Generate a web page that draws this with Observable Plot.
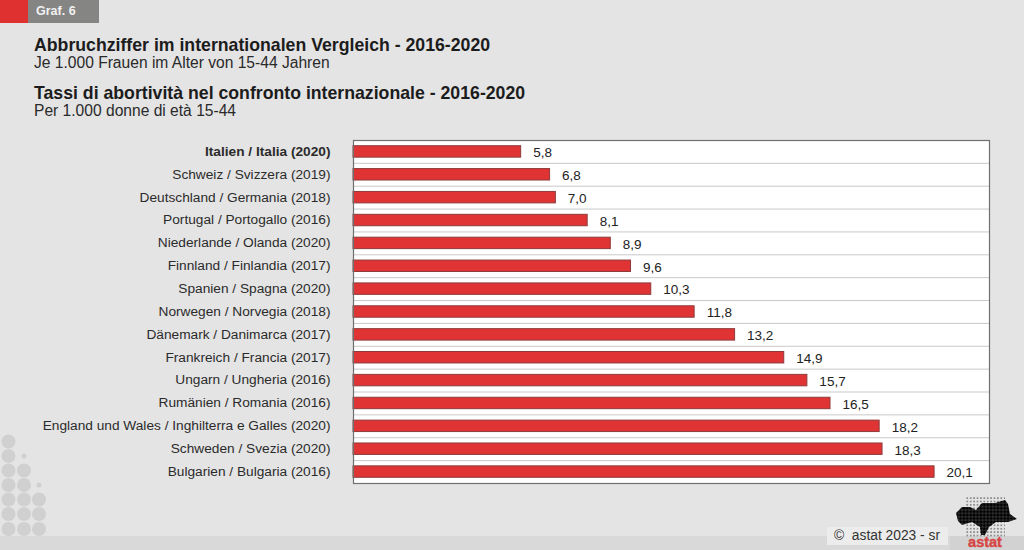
<!DOCTYPE html>
<html>
<head>
<meta charset="utf-8">
<script src="https://cdn.jsdelivr.net/npm/d3@7"></script>
<script src="https://cdn.jsdelivr.net/npm/@observablehq/plot@0.6"></script>
<style>
html,body{margin:0;padding:0;background:#e4e4e4;}
#page{position:relative;width:1024px;height:550px;overflow:hidden;background:#e4e4e4;font-family:"Liberation Sans",Arial,sans-serif;color:#1c1c1c;}
.t{position:absolute;left:34px;white-space:nowrap;}
.h{font-weight:bold;font-size:17.7px;line-height:18px;}
.s{font-size:15.6px;line-height:16px;color:#2a2a2a;}
#plot{position:absolute;left:0;top:130px;}
#plot svg{background:transparent;display:block;}
</style>
</head>
<body>
<div id="page">
  <div style="position:absolute;left:0;top:536px;width:1024px;height:14px;background:#d9d9d9"></div>
  <div style="position:absolute;left:0;top:0;width:28px;height:23px;background:#e03131"></div>
  <div style="position:absolute;left:28px;top:0;width:71px;height:23px;background:#858583"></div>
  <div style="position:absolute;left:36px;top:4px;font-weight:bold;font-size:12.5px;line-height:14px;color:#f2f2f2">Graf. 6</div>
  <div class="t h" style="top:36px">Abbruchziffer im internationalen Vergleich - 2016-2020</div>
  <div class="t s" style="top:55px">Je 1.000 Frauen im Alter von 15-44 Jahren</div>
  <div class="t h" style="top:84px">Tassi di abortività nel confronto internazionale - 2016-2020</div>
  <div class="t s" style="top:103px">Per 1.000 donne di età 15-44</div>
  <svg id="deco" width="1024" height="550" style="position:absolute;left:0;top:0"></svg>
  <div id="plot"></div>
  <div style="position:absolute;left:827px;top:527px;width:121px;height:18px;background:#ececec"></div>
  <div style="position:absolute;left:834px;top:528px;font-size:13.8px;line-height:16px;color:#333;white-space:nowrap">©&nbsp; astat 2023 - sr</div>
  <div style="position:absolute;left:950px;top:536px;width:74px;height:14px;background:#d2d2d2"></div>
  <svg width="1024" height="550" style="position:absolute;left:0;top:0">
    <defs>
      <pattern id="fine" width="3.4" height="3.4" patternUnits="userSpaceOnUse"><circle cx="1.7" cy="1.7" r="0.8" fill="#666"/></pattern>
      <pattern id="bold" width="3.4" height="3.4" patternUnits="userSpaceOnUse"><rect width="3.4" height="3.4" fill="#333"/><circle cx="1.7" cy="1.7" r="1.5" fill="#000"/></pattern>
    </defs>
    <rect x="965" y="496" width="40" height="42" fill="url(#fine)"/>
    <path d="M956 513 L962 507 L970 507 L976 510 L982 503 L995 503 L1005 500 L1008 504 L1010 514 L1017 519 L1008 522 L996 522 L989 527 L985 535 L981 535 L980 527 L972 522 L962 525 L958 521 Z" fill="url(#bold)"/>
    <text x="985" y="547" text-anchor="middle" font-family="'Liberation Sans',Arial,sans-serif" font-weight="bold" font-size="14.5" fill="#d64545" stroke="#d64545" stroke-width="0.4">astat</text>
  </svg>
</div>
<script>
const countries = [
  "Italien / Italia (2020)",
  "Schweiz / Svizzera (2019)",
  "Deutschland / Germania (2018)",
  "Portugal / Portogallo (2016)",
  "Niederlande / Olanda (2020)",
  "Finnland / Finlandia (2017)",
  "Spanien / Spagna (2020)",
  "Norwegen / Norvegia (2018)",
  "Dänemark / Danimarca (2017)",
  "Frankreich / Francia (2017)",
  "Ungarn / Ungheria (2016)",
  "Rumänien / Romania (2016)",
  "England und Wales / Inghilterra e Galles (2020)",
  "Schweden / Svezia (2020)",
  "Bulgarien / Bulgaria (2016)"
];
const rates = [5.8, 6.8, 7.0, 8.1, 8.9, 9.6, 10.3, 11.8, 13.2, 14.9, 15.7, 16.5, 18.2, 18.3, 20.1];
const data = countries.map((country, i) => ({country, rate: rates[i]}));
const fmt = v => v.toFixed(1).replace(".", ",");

const labelStyle = {anchor: "left", tickSize: 0, tickPadding: 23, label: null, fill: "#2b2b2b", dy: -0.5};
const chart = Plot.plot({
  width: 1024,
  height: 365,
  marginLeft: 353,
  marginRight: 35,
  marginTop: 10,
  marginBottom: 12,
  style: {fontFamily: "'Liberation Sans', Arial, sans-serif", fontSize: "13.7px", background: "transparent"},
  x: {domain: [0, 22], axis: null},
  y: {domain: countries, paddingInner: 0.5, paddingOuter: 0.25, align: 0.5, round: false, label: null},
  marks: [
    Plot.frame({fill: "#ffffff", stroke: "none"}),
    Plot.ruleY(countries.slice(0, -1), {y: d => d, dy: 11.4, stroke: "#c9c9c9", strokeWidth: 1}),
    Plot.barX(data, {x: "rate", y: "country", fill: "#e03434", stroke: "#8f3a3a", strokeWidth: 1}),
    Plot.text(data, {x: "rate", y: "country", text: d => fmt(d.rate), textAnchor: "start", dx: 12, dy: 1, fill: "#222", fontSize: 13.5}),
    Plot.axisY(countries.slice(1), {...labelStyle}),
    Plot.axisY(countries.slice(0, 1), {...labelStyle, fontWeight: "bold"}),
    Plot.frame({stroke: "#6f6f6f", strokeWidth: 1.2})
  ]
});
document.getElementById("plot").appendChild(chart);

// background dot ornament, lower-left corner
const deco = d3.select("#deco");
const colsX = [8.5, 24, 39], rowsY = [441.5, 456, 470.5, 485, 499.5, 514, 529];
rowsY.forEach((y, r) => colsX.forEach((x, c) => {
  const first = [0, 2, 4][c];
  if (r >= first) deco.append("circle").attr("cx", x).attr("cy", y).attr("r", 7).attr("fill", "#d0d0d0");
  else if (r === first - 1) deco.append("circle").attr("cx", x).attr("cy", y).attr("r", 2.5).attr("fill", "#d0d0d0");
}));
</script>
</body>
</html>
